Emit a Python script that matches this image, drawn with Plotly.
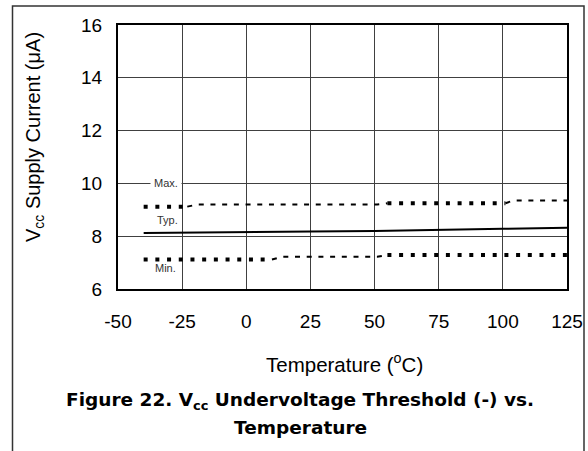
import plotly.graph_objects as go

# Data
typ_temp = [-40, 0, 25, 50, 75, 100, 125]
typ_current = [8.12, 8.17, 8.18, 8.20, 8.23, 8.28, 8.32]

max_temp = [-40, -23, -19, 51, 55, 101, 104, 125]
max_current = [9.12, 9.12, 9.20, 9.20, 9.25, 9.25, 9.35, 9.35]

min_temp = [-40, 10, 14, 51, 55, 125]
min_current = [7.12, 7.12, 7.22, 7.22, 7.29, 7.29]

x_ticks = [-50, -25, 0, 25, 50, 75, 100, 125]
y_ticks = [6, 8, 10, 12, 14, 16]

W, H = 588, 451
L, R, T, B = 118, 21, 25, 162
pw, ph = W - L - R, H - T - B


def px(xp):
    return (xp - L) / pw


def py(yp):
    return (H - B - yp) / ph


def pieces(xs, ys, ranges):
    """Join index ranges of a series into one path, separated by gaps."""
    ox, oy = [], []
    for a, b in ranges:
        ox += xs[a:b + 1] + [None]
        oy += ys[a:b + 1] + [None]
    return ox, oy


FONT = "Liberation Sans, Arial, sans-serif"
BOLD_FONT = "DejaVu Sans, sans-serif"

thick = dict(color="black", width=4, dash="4px,7.7px")
thin = dict(color="black", width=2, dash="5px,6.7px")

fig = go.Figure()
# Max (dotted): square-dot and dash portions
x1, y1 = pieces(max_temp, max_current, [(0, 1), (4, 5)])
x2, y2 = pieces(max_temp, max_current, [(1, 4), (5, 7)])
fig.add_trace(go.Scatter(x=x1, y=y1, mode="lines", line=thick, showlegend=False))
fig.add_trace(go.Scatter(x=x2, y=y2, mode="lines", line=thin, showlegend=False))
# Typ (solid)
fig.add_trace(go.Scatter(x=typ_temp, y=typ_current, mode="lines",
                         line=dict(color="black", width=2), showlegend=False))
# Min (dotted)
x3, y3 = pieces(min_temp, min_current, [(0, 1), (4, 5)])
x4, y4 = pieces(min_temp, min_current, [(1, 4)])
fig.add_trace(go.Scatter(x=x3, y=y3, mode="lines", line=thick, showlegend=False))
fig.add_trace(go.Scatter(x=x4, y=y4, mode="lines", line=thin, showlegend=False))

fig.update_xaxes(range=[-50, 125], tickvals=x_ticks, ticktext=[str(v) for v in x_ticks],
                 showgrid=True, gridcolor="#404040", gridwidth=1,
                 showline=True, linecolor="black", linewidth=2, mirror=True,
                 zeroline=False, ticks="", ticklabelstandoff=14, automargin=False,
                 tickfont=dict(family=FONT, size=19, color="black"))
fig.update_yaxes(range=[6, 16], tickvals=y_ticks, ticktext=[str(v) for v in y_ticks],
                 showgrid=True, gridcolor="#404040", gridwidth=1,
                 showline=True, linecolor="black", linewidth=2, mirror=True,
                 zeroline=False, ticks="", ticklabelstandoff=10, automargin=False,
                 tickfont=dict(family=FONT, size=19, color="black"))

label_font = dict(family=FONT, size=11, color="#333")
annotations = [
    dict(text="Max.", x=-31.2, y=10, xref="x", yref="y", showarrow=False,
         xanchor="center", yanchor="middle",
         bgcolor="white", font=label_font, borderpad=3),
    dict(text="Typ.", x=-30.8, y=8.62, xref="x", yref="y", showarrow=False,
         xanchor="center", yanchor="middle", font=label_font),
    dict(text="Min.", x=-31.6, y=6.8, xref="x", yref="y", showarrow=False,
         xanchor="center", yanchor="middle", font=label_font),
    dict(text="V<sub>cc</sub> Supply Current (μA)", x=px(34), y=py(137),
         xref="paper", yref="paper", showarrow=False, textangle=-90,
         xanchor="center", yanchor="middle",
         font=dict(family=FONT, size=20, color="black")),
    dict(text="Temperature (<sup>o</sup>C)", x=px(344), y=py(363),
         xref="paper", yref="paper", showarrow=False,
         xanchor="center", yanchor="middle",
         font=dict(family=FONT, size=20.5, color="black")),
    dict(text="<b>Figure 22. V<sub>cc</sub> Undervoltage Threshold (-) vs.</b>",
         x=px(300), y=py(401), xref="paper", yref="paper", showarrow=False,
         xanchor="center", yanchor="middle",
         font=dict(family=BOLD_FONT, size=18.5, color="black")),
    dict(text="<b>Temperature</b>",
         x=px(300), y=py(428), xref="paper", yref="paper", showarrow=False,
         xanchor="center", yanchor="middle",
         font=dict(family=BOLD_FONT, size=18.5, color="black")),
]

shapes = [
    dict(type="rect", xref="paper", yref="paper",
         x0=px(12.5), x1=px(584), y0=py(460), y1=py(6),
         line=dict(color="#333", width=1.5), layer="below"),
]

fig.update_layout(width=W, height=H, autosize=False,
                  margin=dict(l=L, r=R, t=T, b=B),
                  paper_bgcolor="white", plot_bgcolor="white",
                  annotations=annotations, shapes=shapes)

fig.write_html("out.html",
               config={"displayModeBar": False, "responsive": False},
               post_script="document.body.style.margin='0';")
